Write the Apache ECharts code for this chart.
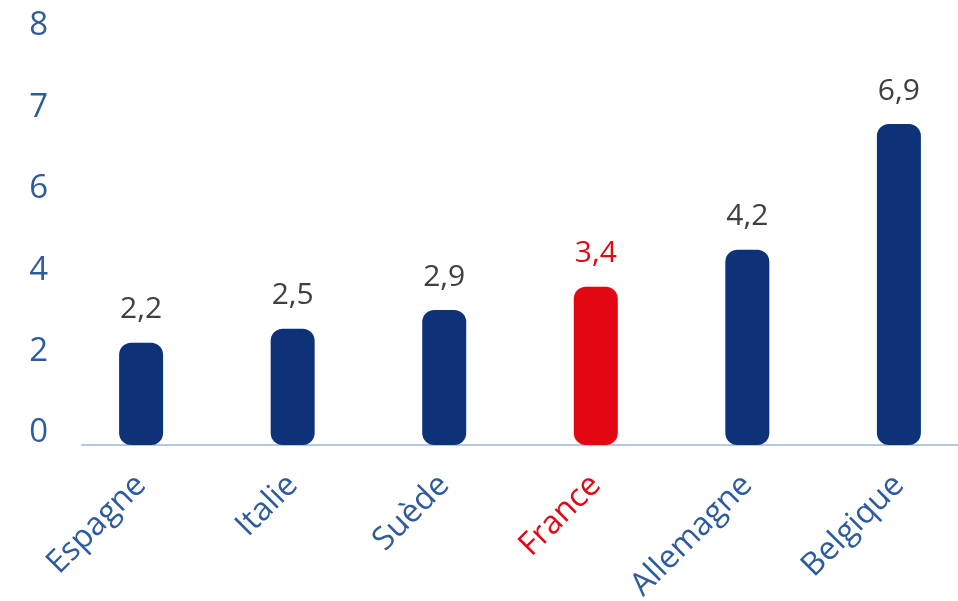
<!DOCTYPE html>
<html>
<head>
<meta charset="utf-8">
<script src="https://cdn.jsdelivr.net/npm/echarts@6/dist/echarts.min.js"></script>
<style>
html,body{margin:0;padding:0;background:#fff;}
#chart{width:958px;height:601px;}
</style>
</head>
<body>
<div id="chart"></div>
<script>
var categories = ['Espagne', 'Italie', 'Suède', 'France', 'Allemagne', 'Belgique'];
var values = [2.2, 2.5, 2.9, 3.4, 4.2, 6.9];
var yTickLabels = ['0', '2', '4', '6', '7', '8'];
var highlight = 'France';

var NAVY = '#0D3278', RED = '#E30613', BLUE = '#2E5C9B', GRAY = '#404040';
var STEP = 1.75;

var data = categories.map(function (c, i) {
  var hl = c === highlight;
  return {
    value: [i, values[i]],
    itemStyle: { color: hl ? RED : NAVY },
    label: { color: hl ? RED : GRAY }
  };
});

var chart = echarts.init(document.getElementById('chart'));
chart.setOption({
  animation: false,
  backgroundColor: '#fff',
  grid: { left: 82, right: 0, top: 38, bottom: 156, containLabel: false, outerBoundsMode: 'none' },
  xAxis: {
    type: 'value',
    min: -0.39,
    max: 5.39,
    splitLine: { show: false },
    axisTick: { show: false },
    axisLine: { show: true, onZero: false, lineStyle: { color: '#B4C7E7', width: 2 } },
    axisLabel: {
      customValues: categories.map(function (c, i) { return i; }),
      rotate: 45,
      margin: 35,
      fontFamily: 'Open Sans',
      fontSize: 32,
      formatter: function (v) { return categories[Math.round(v)]; },
      color: function (v) { return categories[Math.round(Number(v))] === highlight ? RED : BLUE; }
    }
  },
  yAxis: {
    type: 'value',
    min: 0,
    max: STEP * 5,
    interval: STEP,
    splitLine: { show: false },
    axisLine: { show: false },
    axisTick: { show: false },
    axisLabel: {
      margin: 34,
      fontFamily: 'Open Sans',
      fontSize: 33,
      color: BLUE,
      verticalAlign: 'bottom',
      lineHeight: 24,
      formatter: function (v) { return yTickLabels[Math.round(v / STEP)]; }
    }
  },
  series: [{
    type: 'bar',
    data: data,
    barWidth: 44,
    itemStyle: { borderRadius: 12 },
    label: {
      show: true,
      position: 'top',
      distance: 18,
      fontFamily: 'Open Sans',
      fontSize: 30,
      formatter: function (p) { return String(p.value[1]).replace('.', ','); }
    }
  }]
});
</script>
</body>
</html>
